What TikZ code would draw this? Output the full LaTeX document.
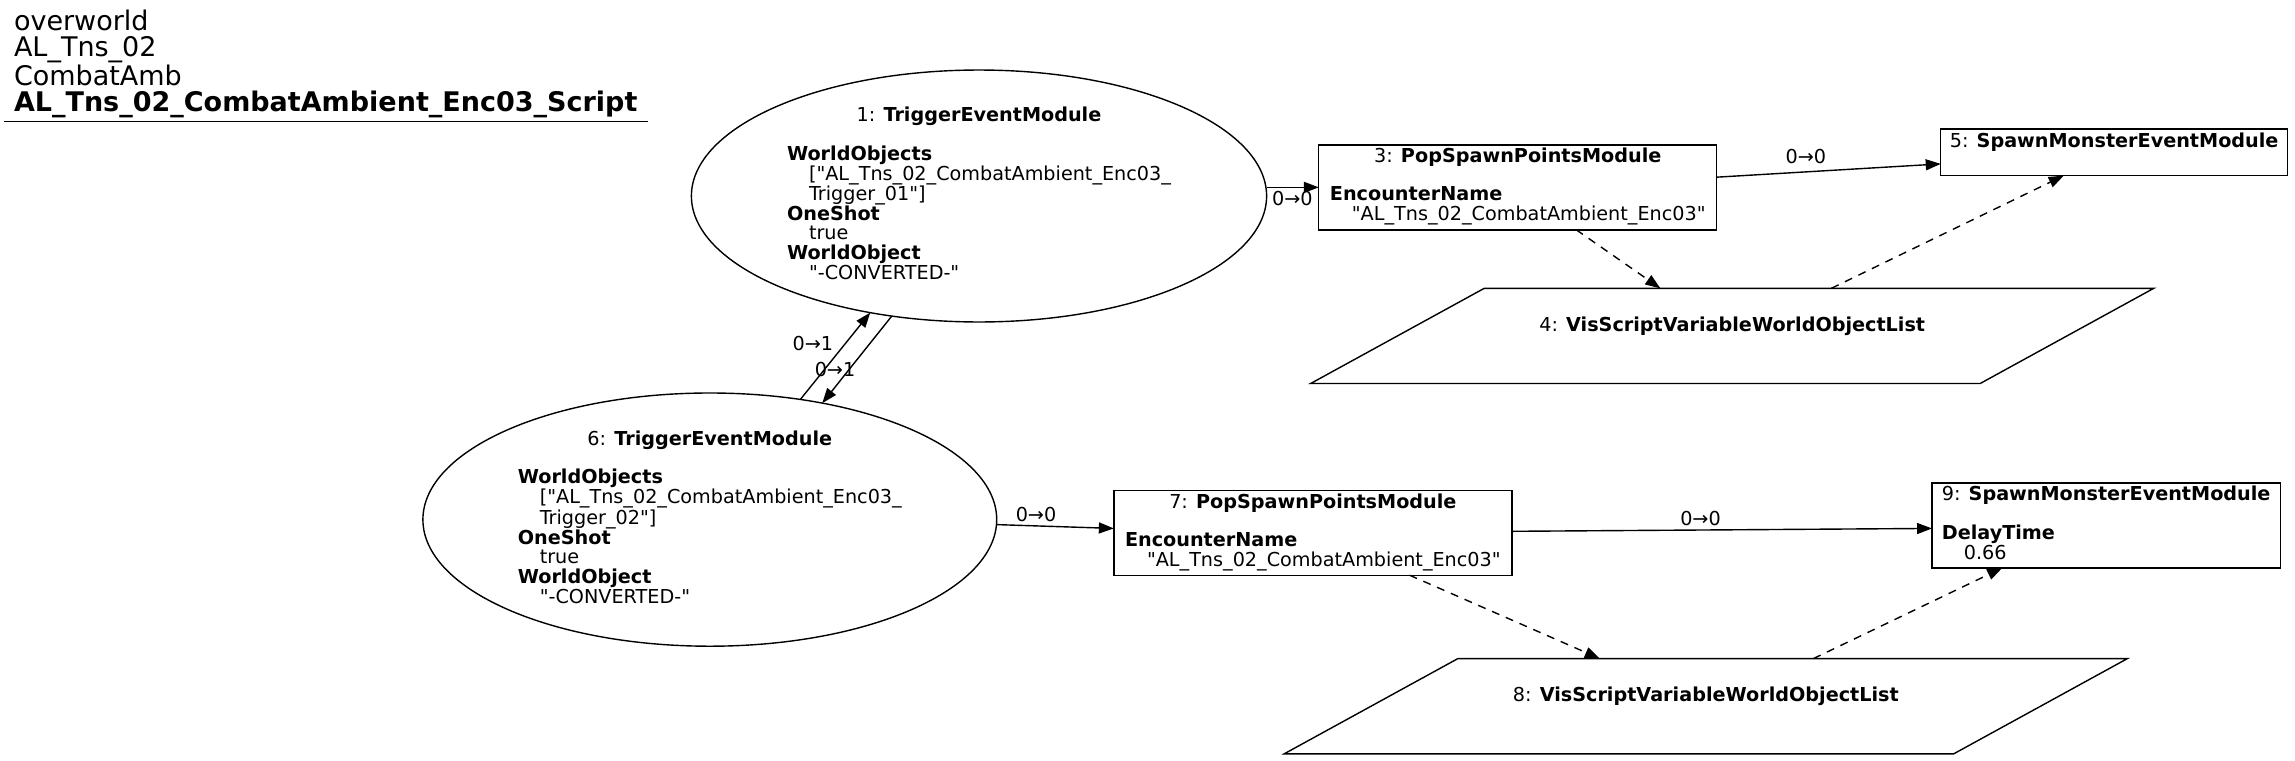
\documentclass[tikz,border=0pt]{standalone}
\usepackage{fontspec}
\setmainfont{DejaVu Sans}[Ligatures=TeXOff]
\usetikzlibrary{arrows.meta,shapes.geometric,calc}
\newcommand{\ind}{\hspace*{11pt}}
\begin{document}
\begin{tikzpicture}[x=0.5pt,y=-0.5pt,
  every node/.style={inner sep=0pt, outer sep=0pt},
  bodyfont/.style={font=\fontsize{9.6}{9.25}\selectfont},
  box/.style={draw, line width=0.7pt, rectangle, bodyfont, align=center},
  ell/.style={draw, line width=0.7pt, ellipse, bodyfont},
  parabody/.style={rectangle, minimum width=334.75pt, minimum height=47.6pt, bodyfont},
  paraline/.style={draw, line width=0.7pt},
  conn/.style={line width=0.7pt, -{Triangle[length=7.5pt,width=5.5pt]}},
  dconn/.style={conn, dash pattern=on 4pt off 3.5pt},
  elab/.style={bodyfont}
]
\useasboundingbox (0,0) rectangle (2295,760);

% title
\node[anchor=north west, align=left, font=\fontsize{13.5}{13.2}\selectfont] (title) at (14,9.5)
  {overworld\\AL\_Tns\_02\\CombatAmb\\\textbf{AL\_Tns\_02\_CombatAmbient\_Enc03\_Script}};
\draw[line width=0.7pt] (4.4,121.5) -- (648,121.5);

% node 1
\node[ell, minimum width=287.6pt, minimum height=125pt] (n1) at (979,196)
  {\begin{tabular}{@{}l@{}}\multicolumn{1}{@{}c@{}}{1: \textbf{TriggerEventModule}}\\ \\
   \textbf{WorldObjects}\\ \ind["AL\_Tns\_02\_CombatAmbient\_Enc03\_\\ \ind Trigger\_01"]\\
   \textbf{OneShot}\\ \ind true\\ \textbf{WorldObject}\\ \ind"-CONVERTED-"\end{tabular}};

% node 6
\node[ell, minimum width=286.9pt, minimum height=126.6pt] (n6) at (709.8,519.6)
  {\begin{tabular}{@{}l@{}}\multicolumn{1}{@{}c@{}}{6: \textbf{TriggerEventModule}}\\ \\
   \textbf{WorldObjects}\\ \ind["AL\_Tns\_02\_CombatAmbient\_Enc03\_\\ \ind Trigger\_02"]\\
   \textbf{OneShot}\\ \ind true\\ \textbf{WorldObject}\\ \ind"-CONVERTED-"\end{tabular}};

% node 3
\node[box, minimum width=199pt, minimum height=42.45pt] (n3) at (1517.75,187.35)
  {\begin{tabular}{@{}l@{}}\multicolumn{1}{@{}c@{}}{3: \textbf{PopSpawnPointsModule}}\\ \\
   \textbf{EncounterName}\\ \ind"AL\_Tns\_02\_CombatAmbient\_Enc03"\end{tabular}};

% node 5
\node[box, minimum width=173.45pt, minimum height=23.4pt] (n5) at (2114.15,152.2)
  {\begin{tabular}{@{}c@{}}5: \textbf{SpawnMonsterEventModule}\\ \\ \end{tabular}};

% node 4 (parallelogram)
\node[parabody] (n4) at (1732.2,335.9)
  {\begin{tabular}{@{}c@{}}4: \textbf{VisScriptVariableWorldObjectList}\\ \\ \end{tabular}};
\coordinate (n4tl) at ($(n4.north west)+(43.4pt,0)$);
\coordinate (n4tr) at ($(n4.north east)+(43.4pt,0)$);
\coordinate (n4br) at ($(n4.south east)+(-43.4pt,0)$);
\coordinate (n4bl) at ($(n4.south west)+(-43.4pt,0)$);
\draw[paraline] (n4tl) -- (n4tr) -- (n4br) -- (n4bl) -- cycle;

% node 7
\node[box, minimum width=199pt, minimum height=42.45pt] (n7) at (1312.85,532.75)
  {\begin{tabular}{@{}l@{}}\multicolumn{1}{@{}c@{}}{7: \textbf{PopSpawnPointsModule}}\\ \\
   \textbf{EncounterName}\\ \ind"AL\_Tns\_02\_CombatAmbient\_Enc03"\end{tabular}};

% node 9
\node[box, minimum width=174.15pt, minimum height=42.45pt] (n9) at (2106.15,525.45)
  {\begin{tabular}{@{}l@{}}\multicolumn{1}{@{}c@{}}{9: \textbf{SpawnMonsterEventModule}}\\ \\
   \textbf{DelayTime}\\ \ind 0.66\end{tabular}};

% node 8 (parallelogram)
\node[parabody] (n8) at (1705.8,706.2)
  {\begin{tabular}{@{}c@{}}8: \textbf{VisScriptVariableWorldObjectList}\\ \\ \end{tabular}};
\coordinate (n8tl) at ($(n8.north west)+(43.4pt,0)$);
\coordinate (n8tr) at ($(n8.north east)+(43.4pt,0)$);
\coordinate (n8br) at ($(n8.south east)+(-43.4pt,0)$);
\coordinate (n8bl) at ($(n8.south west)+(-43.4pt,0)$);
\draw[paraline] (n8tl) -- (n8tr) -- (n8br) -- (n8bl) -- cycle;

% edges
\draw[conn] (n1.east |- n3.west) -- (n3.west)
  node[elab, pos=0.495, yshift=-5.8pt] {0→0};
\draw[conn] ($(n3.north east)!0.38!(n3.south east)$) -- ($(n5.north west)!0.75!(n5.south west)$)
  node[elab, pos=0.398, yshift=7.6pt] {0→0};
\draw[dconn] ($(n3.south west)!0.647!(n3.south east)$) -- ($(n4tl)!0.263!(n4tr)$);
\draw[dconn] ($(n4tl)!0.5185!(n4tr)$) -- ($(n5.south west)!0.3546!(n5.south east)$);

\draw[conn] (n6.53.35) -- (n1.227.5)
  node[elab, pos=0.64, xshift=-16.1pt] {0→1};
\draw[conn] (n1.234) -- (n6.46.9)
  node[elab, pos=0.615, xshift=-7pt] {0→1};

\draw[conn] (n6.-1.2) -- ($(n7.north west)!0.449!(n7.south west)$)
  node[elab, pos=0.337, yshift=5.6pt] {0→0};
\draw[conn] ($(n7.north east)!0.483!(n7.south east)$) -- ($(n9.north west)!0.535!(n9.south west)$)
  node[elab, pos=0.449, yshift=6pt] {0→0};
\draw[dconn] ($(n7.south west)!0.743!(n7.south east)$) -- ($(n8tl)!0.212!(n8tr)$);
\draw[dconn] ($(n8tl)!0.531!(n8tr)$) -- ($(n9.south west)!0.2016!(n9.south east)$);
\end{tikzpicture}
\end{document}
